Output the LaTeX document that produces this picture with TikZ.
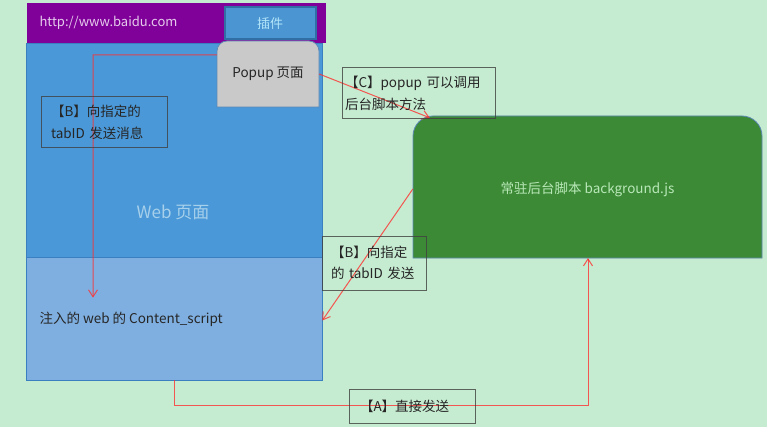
\documentclass[tikz,border=0pt]{standalone}
\usepackage{fontspec}
\setmainfont{Noto Sans CJK SC}
\usetikzlibrary{arrows.meta}
\definecolor{bgmint}{HTML}{C5EBD0}
\definecolor{barpurple}{HTML}{80009A}
\definecolor{btnblue}{HTML}{4B95D2}
\definecolor{btnedge}{HTML}{2F6FA6}
\definecolor{webblue}{HTML}{4A98D7}
\definecolor{csblue}{HTML}{7FAFE0}
\definecolor{webedge}{HTML}{3A7FBF}
\definecolor{popgray}{HTML}{C9C9C9}
\definecolor{popedge}{HTML}{5D88B5}
\definecolor{bggreen}{HTML}{3C8A36}
\definecolor{labelink}{HTML}{262626}
\definecolor{linkred}{HTML}{FF3030}
\tikzset{
  labelbox/.style={draw=black!75, line width=1pt, draw opacity=0.8, text=labelink,
    font=\fontsize{13.5}{21.5}\selectfont, align=left, inner sep=0pt,
    minimum width=#1, minimum height=0pt},
  msg/.style={draw=linkred, line width=1pt, draw opacity=0.8,
    -{Straight Barb[length=7pt,width=9pt,line width=1pt]}},
  body/.style={font=\fontsize{13.5}{16}\selectfont, text=labelink}
}
\begin{document}
\begin{tikzpicture}[x=1pt,y=-1pt]
  \useasboundingbox (0,0) rectangle (767,430);
  % page background
  \fill[bgmint] (0,0) rectangle (767,427);
  \fill[white] (0,427) rectangle (767,430);

  % browser window: web page body with the content-script band
  \node[fill=webblue, draw=webedge, line width=0.8pt, minimum width=296pt, minimum height=337pt,
        inner sep=0pt] (web) at (174,211.5) {};
  \node[fill=csblue, draw=webedge, line width=0.6pt, minimum width=296pt, minimum height=123pt,
        inner sep=0pt] (cs) at (174,318.5) {};
  \node[body, anchor=west] (cstext) at (36,319) {注入的 web 的 Content\_script};
  \node[font=\fontsize{17}{20}\selectfont, text=cyan!25!white!75!webblue] (webtext) at (173,212) {Web 页面};

  % address bar and extension button
  \node[fill=barpurple, minimum width=299pt, minimum height=40pt, inner sep=0pt] (bar) at (176.5,23) {};
  \node[font=\fontsize{13}{15}\selectfont, text=white!80!barpurple, anchor=west] (url) at (36,23) {http://www.baidu.com};
  \node[fill=btnblue, draw=btnedge, line width=2pt, minimum width=91pt, minimum height=32pt,
        inner sep=0pt, font=\fontsize{13}{15}\selectfont, text=white!70!cyan] (btn) at (270,23.5) {插件};

  % popup page, rounded on top only
  \path[fill=popgray, draw=popedge, line width=0.8pt]
    (217,107) [rounded corners=10pt]-- (217,41) -- (319,41) [sharp corners]-- (319,107) -- cycle;
  \node[body, minimum width=102pt, minimum height=66pt, inner sep=0pt] (popup) at (268,74) {Popup 页面};

  % persistent background script
  \path[fill=bggreen, draw=popedge, line width=0.8pt]
    (413,258) [rounded corners=20pt]-- (413,116) -- (762,116) [sharp corners]-- (762,258) -- cycle;
  \node[font=\fontsize{13.5}{16}\selectfont, text=green!15!white!80!bggreen,
        minimum width=349pt, minimum height=142pt, inner sep=0pt] (bg) at (587.5,189) {常驻后台脚本 background.js};

  % message paths
  \coordinate (bturn) at (93,55);
  \draw[msg] ([yshift=-14pt]popup.north west) -- (bturn) -- (bturn |- cs.north) -- ++(0,41);
  \draw[msg] (popup.east) -- ([xshift=17pt]bg.north west);
  \draw[msg] (bg.west) -- ([yshift=-2pt]cs.east);
  \coordinate (abot) at (174,405);
  \draw[msg] (cs.south -| abot) -- (abot) -- (abot -| 588,0) -- (588,258);

  % labels
  \node[labelbox=126pt, minimum height=51pt, text width=106pt] (lblB1) at (104,122.5)
    {【B】向指定的\\tabID 发送消息};
  \node[labelbox=153pt, minimum height=51pt, text width=147pt] (lblC) at (418.5,93.5)
    {【C】popup 可以调用\\后台脚本方法};
  \node[labelbox=104pt, minimum height=54pt, text width=86pt] (lblB2) at (374,263)
    {【B】向指定\\的 tabID 发送};
  \node[labelbox=126pt, minimum height=34pt, text width=104pt] (lblA) at (412,406)
    {【A】直接发送};
\end{tikzpicture}
\end{document}
